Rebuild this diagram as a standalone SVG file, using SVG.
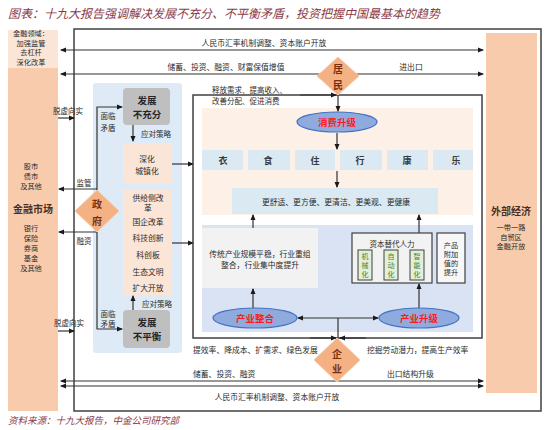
<svg xmlns="http://www.w3.org/2000/svg" width="550" height="430" viewBox="0 0 550 430">
<defs>
<marker id="ah" markerWidth="6" markerHeight="6" refX="5" refY="3" orient="auto" markerUnits="userSpaceOnUse">
<path d="M0,0.5 L6,3 L0,5.5 Z" fill="#1a1a1a"/>
</marker>
<marker id="as" markerWidth="6" markerHeight="6" refX="1" refY="3" orient="auto" markerUnits="userSpaceOnUse">
<path d="M6,0.5 L0,3 L6,5.5 Z" fill="#1a1a1a"/>
</marker>
<style>
text{font-family:"Noto Sans CJK SC","Noto Sans",sans-serif;dominant-baseline:central;text-anchor:middle;fill:#2b2b2b;font-size:7.8px}
.l{text-anchor:start}
.ttl{font-size:12px;font-style:italic;fill:#8B3A46;text-anchor:start}
.src{font-size:9.5px;font-style:italic;fill:#8B3A46;text-anchor:start}
.big{font-size:10px;font-weight:bold;fill:#4a2f1f}
.dia{fill:#F4B183;stroke:#F8CBAD;stroke-width:1}
.dt{font-size:10px;fill:#7A3010;font-weight:bold}
.ln{stroke:#333;stroke-width:1.2;fill:none}
.fr{stroke:#404040;stroke-width:1.5;fill:none}
.el{fill:#8FAADC;stroke:#4472C4;stroke-width:1.2}
.et{font-size:9.5px;font-weight:bold;fill:#FF1A1A}
.gb{fill:#BFBFBF}
.gt{font-size:9.5px;font-weight:bold;fill:#262626}
.pk{fill:#FBE5D6}
.bl{fill:#DAE9F2}
.cx{font-size:9px;font-weight:bold;fill:#3a3a3a}
.grn{fill:#E2F0D9;stroke:#404040;stroke-width:1}
.gr{fill:#4E7F2E;font-size:7px}
.s{font-size:7.5px}
.c{font-size:7.2px}
</style>
</defs>

<text class="ttl" x="8" y="12">图表：十九大报告强调解决发展不充分、不平衡矛盾，投资把握中国最基本的趋势</text>

<g id="left-column">
<rect x="8" y="30" width="50" height="381" fill="#F8CBAD"/>
<rect x="8" y="30" width="50" height="38" fill="#FBE5D6"/>
<text class="c" x="31" y="33">金融领域：</text>
<text class="c" x="31" y="42.5">加强监管</text>
<text class="c" x="31" y="52">去杠杆</text>
<text class="c" x="31" y="61.5">深化改革</text>
<text class="c" x="31" y="166">股市</text>
<text class="c" x="31" y="176">债市</text>
<text class="c" x="31" y="186">及其他</text>
<text class="big" x="33" y="208">金融市场</text>
<text class="c" x="31" y="228">银行</text>
<text class="c" x="31" y="238">保险</text>
<text class="c" x="31" y="248">券商</text>
<text class="c" x="31" y="258">基金</text>
<text class="c" x="31" y="268">及其他</text>
</g>

<g id="right-column">
<rect x="486" y="33" width="51" height="360" fill="#F8CBAD"/>
<text class="big" x="511" y="210">外部经济</text>
<text class="c" x="511" y="227">一带一路</text>
<text class="c" x="511" y="236.5">自贸区</text>
<text class="c" x="511" y="246">金融开放</text>
</g>

<g id="outer-frame">
<rect class="fr" x="74" y="29" width="467" height="382"/>
</g>

<g id="gov-panel">
<rect x="93" y="83" width="89" height="270" rx="3" fill="#DEEBF7"/>
</g>

<g id="consumer-area">
<rect x="202" y="108" width="271" height="107" fill="#FDF0E7"/>
</g>
<g id="production-area">
<rect x="202" y="225" width="271" height="107" fill="#DAE3F3"/>
</g>

<g id="connectors">
<line class="ln" x1="61" y1="50" x2="483" y2="50" marker-start="url(#as)" marker-end="url(#ah)" stroke-width="1.5"/>
<line class="ln" x1="61" y1="74" x2="483" y2="74" marker-start="url(#as)" marker-end="url(#ah)"/>
<line class="ln" x1="61" y1="381" x2="483" y2="381" marker-start="url(#as)" marker-end="url(#ah)"/>
<line class="ln" x1="61" y1="386" x2="483" y2="386" marker-start="url(#as)" marker-end="url(#ah)"/>
<line class="ln" x1="58" y1="118" x2="74" y2="118" marker-end="url(#ah)"/>
<line class="ln" x1="58" y1="331" x2="74" y2="331" marker-end="url(#ah)"/>
<line class="ln" x1="97" y1="189" x2="59" y2="189" marker-end="url(#ah)"/>
<line class="ln" x1="97" y1="232" x2="59" y2="232" marker-end="url(#ah)"/>
<path class="ln" d="M97,190 V107 H122" marker-end="url(#ah)"/>
<path class="ln" d="M97,232 V329 H122" marker-end="url(#ah)"/>
<line class="ln" x1="133" y1="125" x2="133" y2="141" marker-end="url(#ah)"/>
<line class="ln" x1="133" y1="310" x2="133" y2="296" marker-end="url(#ah)"/>
<line class="ln" x1="172" y1="164" x2="193" y2="164" marker-end="url(#ah)"/>
<line class="ln" x1="172" y1="243" x2="193" y2="243" marker-end="url(#ah)"/>
<rect class="fr" x="193" y="95" width="289" height="243"/>
<line class="ln" x1="300" y1="95" x2="336" y2="95" marker-end="url(#ah)"/>
<line class="ln" x1="338" y1="95" x2="338" y2="111" marker-end="url(#ah)"/>
<line class="ln" x1="337" y1="133" x2="337" y2="149" marker-end="url(#ah)"/>
<line class="ln" x1="337" y1="171" x2="337" y2="187" marker-end="url(#ah)"/>
<line class="ln" x1="253" y1="228" x2="253" y2="215" marker-end="url(#ah)"/>
<line class="ln" x1="419" y1="233" x2="419" y2="215" marker-end="url(#ah)"/>
<line class="ln" x1="253" y1="308" x2="253" y2="289" marker-end="url(#ah)"/>
<line class="ln" x1="419" y1="308" x2="419" y2="284" marker-end="url(#ah)"/>
<line class="ln" x1="338" y1="318" x2="298" y2="318" marker-end="url(#ah)"/>
<line class="ln" x1="338" y1="318" x2="378" y2="318" marker-end="url(#ah)"/>
<line class="ln" x1="338" y1="318" x2="338" y2="338"/>
<line class="ln" x1="310" y1="338" x2="336" y2="338" marker-end="url(#ah)"/>
<line class="ln" x1="366" y1="338" x2="340" y2="338" marker-end="url(#ah)"/>
</g>

<g id="flow-labels">
<text x="264" y="42">人民币汇率机制调整、资本账户开放</text>
<text x="226" y="66">储蓄、投资、融资、财富保值增值</text>
<text x="411" y="66">进出口</text>
<text class="l" x="193" y="373">储蓄、投资、融资</text>
<text class="l" x="387" y="373">出口结构升级</text>
<text x="277" y="396">人民币汇率机制调整、资本账户开放</text>
<text class="s" x="68" y="110">脱虚向实</text>
<text class="s" x="69" y="322">脱虚向实</text>
<text class="s" x="84" y="182">监管</text>
<text class="s" x="84" y="240">融资</text>
<text class="s" x="108" y="115">面临</text>
<text class="s" x="108" y="127">矛盾</text>
<text class="s" x="108" y="313">面临</text>
<text class="s" x="108" y="323">矛盾</text>
<text class="s" x="156" y="133">应对策略</text>
<text class="s" x="157" y="303">应对策略</text>
<text class="s l" x="212" y="89">释放需求、提高收入、</text>
<text class="s l" x="212" y="100">改善分配、促进消费</text>
<text class="l" x="193" y="349">提效率、降成本、扩需求、绿色发展</text>
<text class="l" x="367" y="349">挖掘劳动潜力，提高生产效率</text>
</g>

<g id="gov">
<polygon class="dia" points="97,190 119,211 97,232 75,211"/>
<text class="dt" x="97" y="203">政</text>
<text class="dt" x="97" y="220">府</text>
</g>

<g id="resident">
<polygon class="dia" points="338,57 359,76 338,95 317,76"/>
<text class="dt" x="338" y="68">居</text>
<text class="dt" x="338" y="84">民</text>
</g>

<g id="enterprise">
<polygon class="dia" points="337,338 360,360 337,382 314,360"/>
<text class="dt" x="337" y="353">企</text>
<text class="dt" x="337" y="368">业</text>
</g>

<g id="insufficient">
<rect class="gb" x="123" y="88" width="47" height="37" rx="4"/>
<text class="gt" x="147" y="100">发展</text>
<text class="gt" x="147" y="114">不充分</text>
</g>

<g id="urbanization">
<rect class="pk" x="123" y="143" width="49" height="40"/>
<text x="147" y="158">深化</text>
<text x="147" y="170">城镇化</text>
</g>

<g id="supply-side">
<rect class="pk" x="123" y="190" width="49" height="105"/>
<text x="148" y="197">供给侧改</text>
<text x="148" y="207">革</text>
<text x="148" y="221">国企改革</text>
<text x="148" y="237">科技创新</text>
<text x="148" y="254">科创板</text>
<text x="148" y="271">生态文明</text>
<text x="148" y="287">扩大开放</text>
</g>

<g id="unbalanced">
<rect class="gb" x="123" y="310" width="47" height="38" rx="4"/>
<text class="gt" x="147" y="322">发展</text>
<text class="gt" x="147" y="336">不平衡</text>
</g>

<g id="consumption-upgrade">
<ellipse class="el" cx="337" cy="122" rx="40" ry="10"/>
<text class="et" x="337" y="122">消费升级</text>
</g>

<g id="needs">
<rect class="bl" x="202" y="150" width="41" height="20"/><text class="cx" x="223" y="160">衣</text>
<rect class="bl" x="248" y="150" width="42" height="20"/><text class="cx" x="268" y="160">食</text>
<rect class="bl" x="295" y="150" width="40" height="20"/><text class="cx" x="315" y="160">住</text>
<rect class="bl" x="340" y="150" width="42" height="20"/><text class="cx" x="360" y="160">行</text>
<rect class="bl" x="387" y="150" width="41" height="20"/><text class="cx" x="407" y="160">康</text>
<rect class="bl" x="433" y="150" width="40" height="20"/><text class="cx" x="456" y="160">乐</text>
</g>

<g id="better">
<rect class="bl" x="232" y="188" width="206" height="26"/>
<text x="336" y="201">更舒适、更方便、更清洁、更美观、更健康</text>
</g>

<g id="traditional">
<rect x="202" y="228" width="116" height="60" fill="#F2F2F2"/>
<text x="260" y="253">传统产业规模平稳，行业重组</text>
<text x="260" y="264">整合，行业集中度提升</text>
</g>

<g id="capital">
<rect x="352" y="233" width="80" height="50" fill="#F2F2F2" stroke="#404040" stroke-width="1.2"/>
<text class="s" x="392" y="243">资本替代人力</text>
<rect class="grn" x="358" y="250" width="14" height="30"/>
<text class="gr" x="365" y="256">机</text><text class="gr" x="365" y="265">械</text><text class="gr" x="365" y="274">化</text>
<rect class="grn" x="384" y="250" width="14" height="30"/>
<text class="gr" x="391" y="256">自</text><text class="gr" x="391" y="265">动</text><text class="gr" x="391" y="274">化</text>
<rect class="grn" x="410" y="250" width="14" height="30"/>
<text class="gr" x="417" y="256">智</text><text class="gr" x="417" y="265">能</text><text class="gr" x="417" y="274">化</text>
</g>

<g id="value-added">
<rect x="437" y="233" width="28" height="50" fill="#F7F7F7" stroke="#404040" stroke-width="1.2"/>
<text class="c" x="451" y="245">产品</text>
<text class="c" x="451" y="254">附加</text>
<text class="c" x="451" y="263">值的</text>
<text class="c" x="451" y="272">提升</text>
</g>

<g id="industry-integration">
<ellipse class="el" cx="255" cy="318" rx="42" ry="10"/>
<text class="et" x="255" y="318">产业整合</text>
</g>

<g id="industry-upgrade">
<ellipse class="el" cx="419" cy="318" rx="40" ry="10"/>
<text class="et" x="419" y="318">产业升级</text>
</g>

<text class="src" x="8" y="420">资料来源：十九大报告，中金公司研究部</text>
</svg>
